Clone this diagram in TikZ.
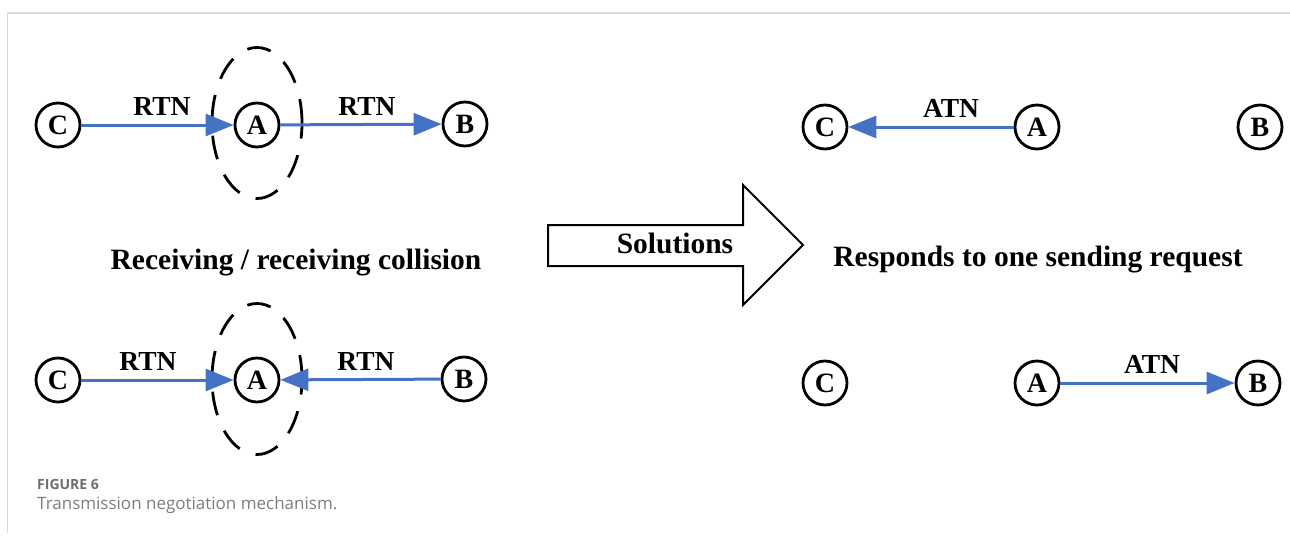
\documentclass[tikz,border=0pt]{standalone}
\usepackage{fontspec}
\setmainfont{Liberation Serif}
\newfontfamily\capfont{Open Sans}
\usetikzlibrary{arrows.meta,shapes.geometric}
\definecolor{lineblue}{RGB}{68,114,196}
\definecolor{framegray}{RGB}{217,217,217}
\definecolor{capgray}{RGB}{110,110,110}
\definecolor{capgrayb}{RGB}{125,125,125}
\tikzset{
  station/.style={circle, draw=black, line width=2.8pt, minimum size=44pt, inner sep=0pt,
    font=\fontsize{28}{30}\selectfont\bfseries},
  conn/.style={draw=lineblue, line width=3pt, -{Triangle[length=28pt,width=22pt]}},
  lbl/.style={anchor=base, font=\fontsize{27.5}{32}\selectfont\bfseries, inner sep=0pt},
  biglbl/.style={anchor=base, font=\fontsize{29.5}{34}\selectfont\bfseries, inner sep=0pt},
  zone/.style={ellipse, draw=black, line width=2.8pt, dash pattern=on 24pt off 17pt,
    minimum width=90pt, minimum height=151pt, inner sep=0pt},
}
\begin{document}
\begin{tikzpicture}[x=1pt,y=-1pt]
\useasboundingbox (0,0) rectangle (1290,539);
% frame
\draw[framegray, line width=2pt] (7,13) -- (1290,13);
\draw[framegray, line width=1pt] (7,13) -- (7,533);

% top-left
\node[zone] (E1) at (257,123) {};
\node[station] (C1) at (58,125) {C};
\node[station] (A1) at (257,125) {A};
\node[station] (B1) at (465,124) {B};
\draw[conn] (C1) -- (A1);
\draw[conn] (A1) -- (B1);
\node[lbl] (r1) at (162,115) {RTN};
\node[lbl] (r2) at (367,115) {RTN};

\node[biglbl] (t1) at (296,269) {Receiving / receiving collision};

% bottom-left
\node[zone] (E2) at (257,379) {};
\node[station] (C2) at (58,380) {C};
\node[station] (A2) at (257,380) {A};
\node[station] (B2) at (464,379) {B};
\draw[conn] (C2) -- (A2);
\draw[conn] (B2) -- (A2);
\node[lbl] (r3) at (148,370) {RTN};
\node[lbl] (r4) at (366,370) {RTN};

% solutions arrow
\draw[black, line width=2pt, line join=miter] (548,225) -- (743,225) -- (743,185) -- (803,245) -- (743,305) -- (743,266) -- (548,266) -- cycle;
\node[biglbl] (sol) at (675,253) {Solutions};

% top-right
\node[station] (C3) at (825,127) {C};
\node[station] (A3) at (1037,127) {A};
\node[station] (B3) at (1260,127) {B};
\draw[conn] (A3) -- (C3);
\node[lbl] (a1) at (951,117) {ATN};

\node[biglbl] (t2) at (1038,266) {Responds to one sending request};

% bottom-right
\node[station] (C4) at (825,383) {C};
\node[station] (A4) at (1037,383) {A};
\node[station] (B4) at (1258,383) {B};
\draw[conn] (A4) -- (B4);
\node[lbl] (a2) at (1152,373) {ATN};

% caption
\node[anchor=base west, inner sep=0pt, text=capgray, font=\capfont\bfseries\fontsize{14}{16}\selectfont] (f6) at (37,489) {FIGURE 6};
\node[anchor=base west, inner sep=0pt, text=capgrayb, font=\capfont\fontsize{17}{20}\selectfont] (cap) at (37,509) {Transmission negotiation mechanism.};
\end{tikzpicture}
\end{document}
